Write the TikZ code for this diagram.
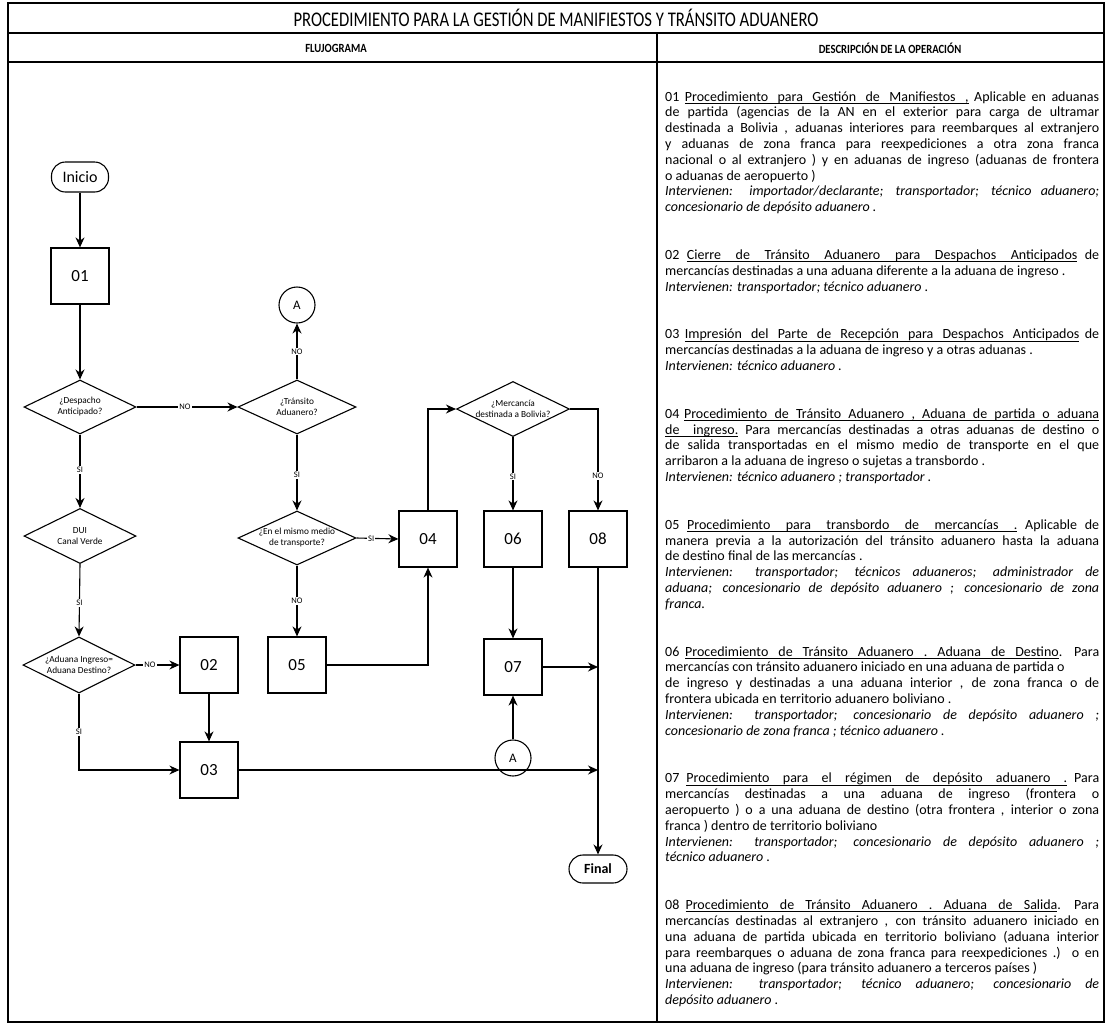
\documentclass[tikz,border=0pt]{standalone}
\usepackage{fontspec}
\setmainfont{Carlito}
\usepackage{graphicx}
\usetikzlibrary{arrows.meta,shapes.geometric}
\newcommand\JL[1]{\hbox to \linewidth{#1}}
\newcommand\SL[1]{\hbox to \linewidth{#1\hfil}}
\newcommand\GAP{\vskip 32pt}
\newcommand\uls{\leaders\hrule depth 2.4pt height -1.7pt\hskip 0.226em plus 0.3em minus 0.05em\relax}
\newcommand\ulw[1]{\setbox0\hbox{#1}\rlap{\vrule depth 2.4pt height -1.7pt width\wd0\relax}\box0\relax}
\def\UL#1{\ULx#1 \relax}
\def\ULx#1 #2\relax{\ulw{#1}\ifx\relax#2\relax\else\uls\ULx#2\relax\fi}
\begin{document}
\begin{tikzpicture}[x=1pt,y=-1pt,
  every node/.style={inner sep=0pt},
  frame/.style={line width=1.2pt},
  box/.style={draw, line width=1.2pt, minimum width=58pt, minimum height=56pt, font=\fontsize{17}{17}\selectfont},
  term/.style={draw, line width=1.1pt, rounded corners=14pt, minimum width=57pt, minimum height=30pt},
  dia/.style={draw, line width=1.1pt, diamond, minimum width=112pt, minimum height=54pt},
  dtext/.style={font=\fontsize{9.3}{11}\selectfont, align=center},
  conn/.style={draw, line width=1.1pt, circle, minimum size=36pt, font=\fontsize{13}{13}\selectfont},
  arr/.style={line width=1.1pt, -{Stealth[length=10pt,width=9pt]}},
  lab/.style={fill=white, inner sep=1pt, font=\fontsize{8.5}{8.5}\selectfont}
]
\useasboundingbox (0,0) rectangle (1112,1026);
\fill[white] (0,0) rectangle (1112,1026);
% frame
\draw[frame] (8,3) rectangle (1104,1022);
\draw[frame] (8,33) -- (1104,33);
\draw[frame] (8,62) -- (1104,62);
\draw[frame] (657,33) -- (657,1022);
\node (title) at (556,18) {\resizebox{525pt}{!}{\scalebox{0.8}[1]{\fontsize{17}{17}\selectfont PROCEDIMIENTO PARA LA GESTIÓN DE MANIFIESTOS Y TRÁNSITO ADUANERO}}};
\node (hflu) at (336,48) {\scalebox{0.85}[1]{\fontsize{12.5}{12.5}\selectfont\bfseries FLUJOGRAMA}};
\node (hdesc) at (890,48) {\scalebox{0.85}[1]{\fontsize{12.5}{12.5}\selectfont\bfseries DESCRIPCIÓN DE LA OPERACIÓN}};

% flowchart nodes
\node[term, font=\fontsize{16}{16}\selectfont] (ini) at (80,177) {Inicio};
\node[box] (b01) at (80,276) {01};
\node[dia] (d1) at (80,407) {};
\node[dtext] at (d1) {¿Despacho\\Anticipado?};
\node[dia, minimum width=118pt] (d2) at (297,407) {};
\node[dtext] at (d2) {¿Tránsito\\Aduanero?};
\node[conn] (A1) at (297,305) {A};
\node[dia, minimum width=112pt, minimum height=55pt] (dui) at (80,536) {};
\node[dtext] at (dui) {DUI\\Canal Verde};
\node[dia, minimum width=118pt] (d3) at (297,538) {};
\node[dtext] at (d3) {¿En el mismo medio\\de transporte?};
\node[dia, minimum height=56pt] (d4) at (79,665) {};
\node[dtext] at (d4) {¿Aduana Ingreso=\\Aduana Destino?};
\node[box] (b02) at (209,665) {02};
\node[box] (b05) at (297,665) {05};
\node[box] (b03) at (209,770) {03};
\node[box] (b04) at (428,539) {04};
\node[dia, minimum width=113pt, minimum height=55pt] (d5) at (513,409) {};
\node[dtext] at (d5) {¿Mercancía\\destinada a Bolivia?};
\node[box] (b06) at (513,539) {06};
\node[box] (b08) at (598,539) {08};
\node[box] (b07) at (513,667) {07};
\node[conn] (A2) at (513,758) {A};
\node[term, minimum width=58pt, minimum height=28pt, font=\fontsize{14}{14}\selectfont\bfseries] (fin) at (598,869) {Final};

% connectors
\draw[arr] (ini) -- (b01);
\draw[arr] (b01) -- (d1);
\draw[arr] (d1.east) -- node[lab,pos=.48]{NO} (d2.west);
\draw[arr] (d2.north) -- node[lab,pos=.5]{NO} (A1);
\draw[arr] (d2.south) -- node[lab,pos=.53]{SI} (d3.north);
\draw[arr] (d1.south) -- node[lab,pos=.48]{SI} (dui.north);
\draw[arr] (dui.south) -- node[lab,pos=.54]{SI} (d4.north);
\draw[arr] (d4.east) -- node[lab,pos=.33]{NO} (b02.west);
\draw[arr] (d4.south) |- node[lab,pos=.25]{SI} (b03.west);
\draw[arr] (b02.south) -- (b03.north);
\draw[arr] (d3.east) -- node[lab,pos=.35]{SI} (b04.west);
\draw[arr] (d3.south) -- node[lab,pos=.5]{NO} (b05.north);
\draw[arr] (b05.east) -| (b04.south);
\draw[arr] (b04.north) |- (d5.west);
\draw[arr] (d5.south) -- node[lab,pos=.54]{SI} (b06.north);
\draw[arr] (d5.east) -| node[lab,pos=.83]{NO} (b08.north);
\draw[arr] (b06.south) -- (b07.north);
\draw[arr] (A2) -- (b07.south);
\draw[arr] (b07.east) -- (b07.east -| b08.south);
\draw[arr] (b03.east) -- (b03.east -| b08.south);
\draw[arr] (b08.south) -- (fin.north);

% description
\node[anchor=base west] (desc) at (665,101) {\begin{minipage}[t]{434pt}\fontsize{14}{15.8}\selectfont
\JL{01 \UL{Procedimiento para Gestión de Manifiestos ,} Aplicable en aduanas}
\JL{de partida (agencias de la AN en el exterior para carga de ultramar}
\JL{destinada a Bolivia , aduanas interiores para reembarques al extranjero}
\JL{y aduanas de zona franca para reexpediciones a otra zona franca}
\JL{nacional o al extranjero ) y en aduanas de ingreso (aduanas de frontera}
\SL{o aduanas de aeropuerto )}
\JL{\itshape Intervienen: importador/declarante; transportador; técnico aduanero;}
\SL{\itshape concesionario de depósito aduanero .}
\GAP
\JL{02 \UL{Cierre de Tránsito Aduanero para Despachos Anticipados} de}
\SL{mercancías destinadas a una aduana diferente a la aduana de ingreso .}
\SL{\itshape Intervienen: transportador; técnico aduanero .}
\GAP
\JL{03 \UL{Impresión del Parte de Recepción para Despachos Anticipados} de}
\SL{mercancías destinadas a la aduana de ingreso y a otras aduanas .}
\SL{\itshape Intervienen: técnico aduanero .}
\GAP
\JL{04 \UL{Procedimiento de Tránsito Aduanero , Aduana de partida o aduana}}
\JL{\UL{de ingreso.} Para mercancías destinadas a otras aduanas de destino o}
\JL{de salida transportadas en el mismo medio de transporte en el que}
\SL{arribaron a la aduana de ingreso o sujetas a transbordo .}
\SL{\itshape Intervienen: técnico aduanero ; transportador .}
\GAP
\JL{05 \UL{Procedimiento para transbordo de mercancías .} Aplicable de}
\JL{manera previa a la autorización del tránsito aduanero hasta la aduana}
\SL{de destino final de las mercancías .}
\JL{\itshape Intervienen: transportador; técnicos aduaneros; administrador de}
\JL{\itshape aduana; concesionario de depósito aduanero ; concesionario de zona}
\SL{\itshape franca.}
\GAP
\JL{06 \UL{Procedimiento de Tránsito Aduanero . Aduana de Destino}. Para}
\SL{mercancías con tránsito aduanero iniciado en una aduana de partida o}
\JL{de ingreso y destinadas a una aduana interior , de zona franca o de}
\SL{frontera ubicada en territorio aduanero boliviano .}
\JL{\itshape Intervienen: transportador; concesionario de depósito aduanero ;}
\SL{\itshape concesionario de zona franca ; técnico aduanero .}
\GAP
\JL{07 \UL{Procedimiento para el régimen de depósito aduanero .} Para}
\JL{mercancías destinadas a una aduana de ingreso (frontera o}
\JL{aeropuerto ) o a una aduana de destino (otra frontera , interior o zona}
\SL{franca ) dentro de territorio boliviano}
\JL{\itshape Intervienen: transportador; concesionario de depósito aduanero ;}
\SL{\itshape técnico aduanero .}
\GAP
\JL{08 \UL{Procedimiento de Tránsito Aduanero . Aduana de Salida}. Para}
\JL{mercancías destinadas al extranjero , con tránsito aduanero iniciado en}
\JL{una aduana de partida ubicada en territorio boliviano (aduana interior}
\JL{para reembarques o aduana de zona franca para reexpediciones .) o en}
\SL{una aduana de ingreso (para tránsito aduanero a terceros países )}
\JL{\itshape Intervienen: transportador; técnico aduanero; concesionario de}
\SL{\itshape depósito aduanero .}
\end{minipage}};
\end{tikzpicture}
\end{document}
